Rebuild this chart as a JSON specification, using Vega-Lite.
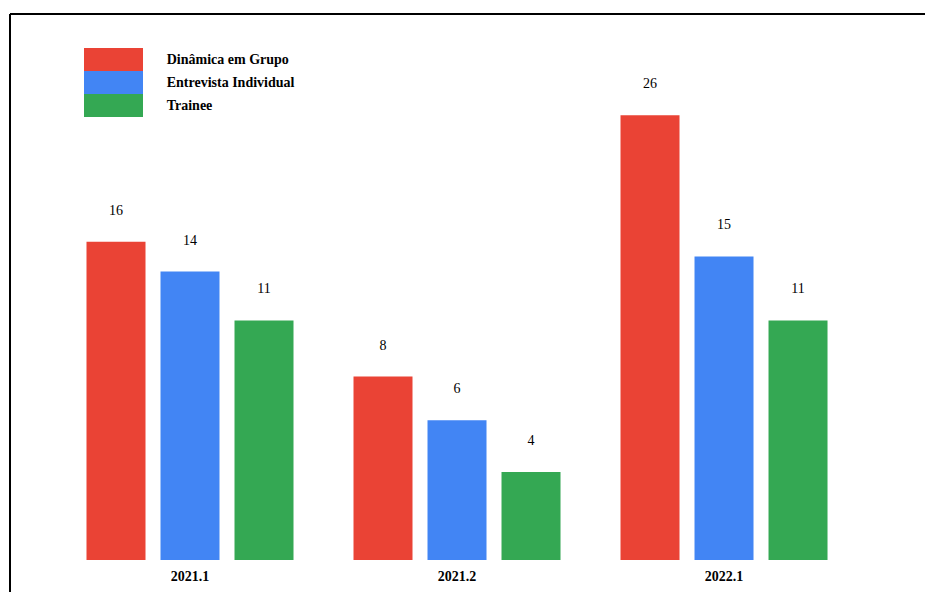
{
  "$schema": "https://vega.github.io/schema/vega-lite/v6.json",
  "width": 915,
  "height": 578,
  "autosize": {"type": "none"},
  "padding": {"left": 10, "top": 14, "right": 0, "bottom": 0},
  "background": "white",
  "config": {
    "view": {"stroke": "#000000", "strokeWidth": 2, "strokeDash": [915, 1493, 578, 0]},
    "font": "Liberation Serif"
  },
  "data": {
    "values": [
      {"periodo": "2021.1", "tipo": "Dinâmica em Grupo", "valor": 16},
      {"periodo": "2021.1", "tipo": "Entrevista Individual", "valor": 14},
      {"periodo": "2021.1", "tipo": "Trainee", "valor": 11},
      {"periodo": "2021.2", "tipo": "Dinâmica em Grupo", "valor": 8},
      {"periodo": "2021.2", "tipo": "Entrevista Individual", "valor": 6},
      {"periodo": "2021.2", "tipo": "Trainee", "valor": 4},
      {"periodo": "2022.1", "tipo": "Dinâmica em Grupo", "valor": 26},
      {"periodo": "2022.1", "tipo": "Entrevista Individual", "valor": 15},
      {"periodo": "2022.1", "tipo": "Trainee", "valor": 11}
    ]
  },
  "encoding": {
    "x": {
      "field": "periodo",
      "type": "nominal",
      "sort": null,
      "scale": {"paddingInner": 0.2247, "paddingOuter": 0.3258, "align": 0.4397},
      "axis": {
        "title": null,
        "labelAngle": 0,
        "domain": false,
        "ticks": false,
        "grid": false,
        "offset": -16,
        "labelPadding": 0,
        "labelBaseline": "middle",
        "labelFont": "Liberation Serif",
        "labelFontSize": 14,
        "labelFontWeight": "bold",
        "labelColor": "#000000"
      }
    },
    "xOffset": {
      "field": "tipo",
      "type": "nominal",
      "sort": ["Dinâmica em Grupo", "Entrevista Individual", "Trainee"],
      "scale": {"paddingInner": 0.2027, "paddingOuter": 0}
    },
    "y": {
      "field": "valor",
      "type": "quantitative",
      "scale": {"type": "sqrt", "domain": [0.9155, 35.753], "nice": false, "zero": false},
      "axis": null
    }
  },
  "layer": [
    {
      "mark": {"type": "bar", "opacity": 1},
      "encoding": {
        "y2": {"datum": 1.525},
        "color": {
          "field": "tipo",
          "type": "nominal",
          "scale": {
            "domain": ["Dinâmica em Grupo", "Entrevista Individual", "Trainee"],
            "range": ["#EA4335", "#4285F4", "#34A853"]
          },
          "legend": {
            "title": null,
            "orient": "none",
            "legendX": 92,
            "legendY": 34,
            "padding": 0,
            "rowPadding": 0,
            "symbolType": "M-2.565,-1H2.565V1H-2.565Z",
            "symbolSize": 529,
            "symbolStrokeWidth": 0,
            "symbolOpacity": 1,
            "labelOffset": 41.7,
            "labelFont": "Liberation Serif",
            "labelFontSize": 14,
            "labelFontWeight": "bold",
            "labelColor": "#000000",
            "labelLimit": 400
          }
        }
      }
    },
    {
      "mark": {"type": "text", "baseline": "middle", "align": "center", "dy": -31, "font": "Liberation Serif", "fontSize": 14, "color": "#000000"},
      "encoding": {
        "text": {"field": "valor", "type": "quantitative"}
      }
    }
  ]
}
